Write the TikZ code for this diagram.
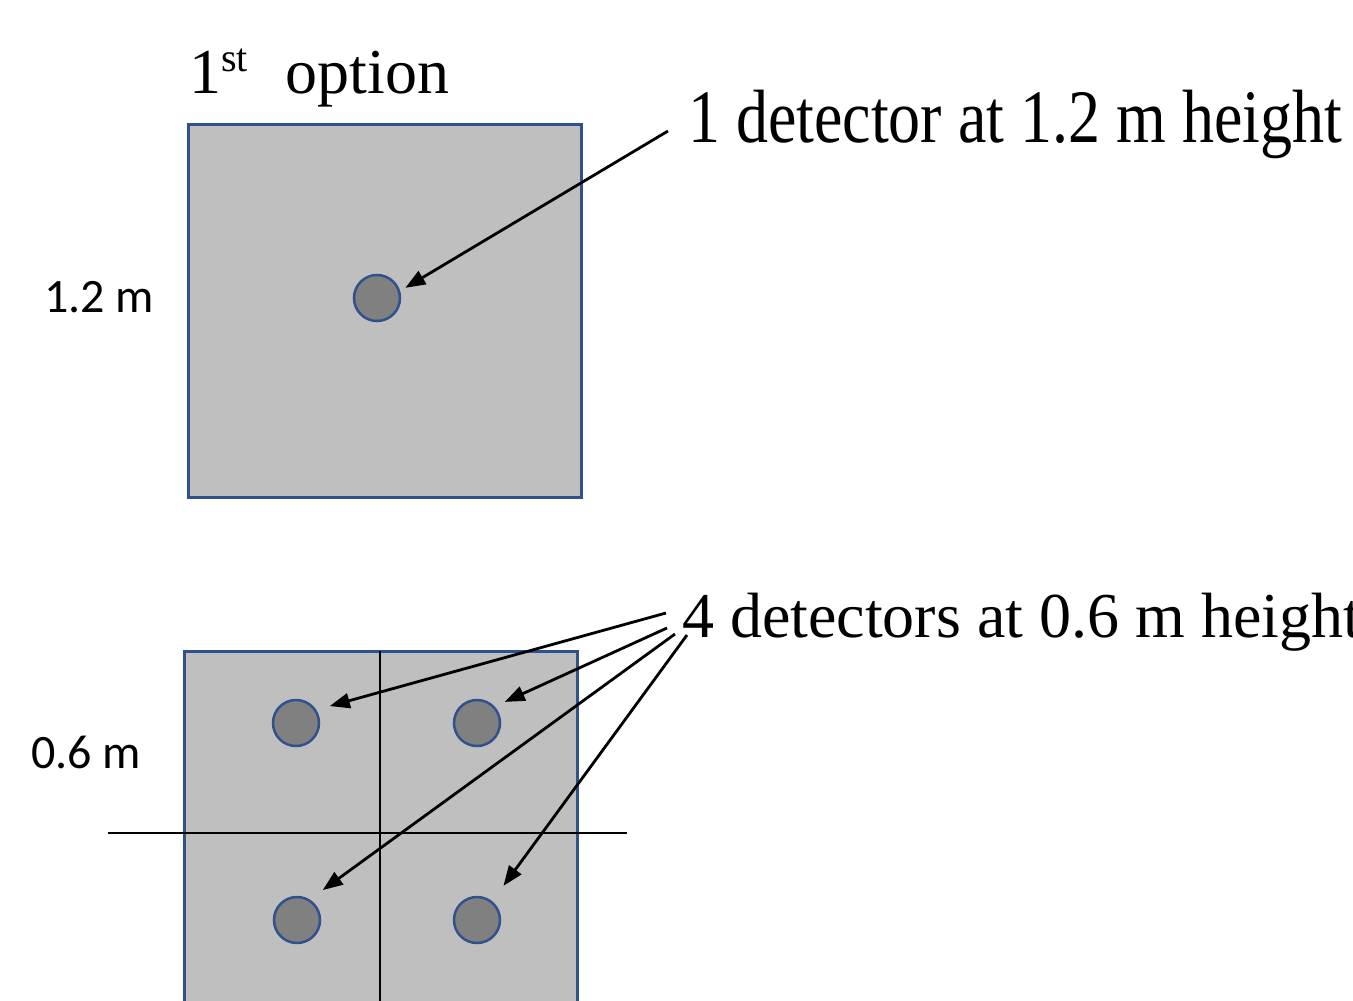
\documentclass[tikz,border=0pt]{standalone}
\usepackage{fontspec}
\setmainfont{Liberation Serif}
\newfontfamily\calib{Carlito}
\usetikzlibrary{arrows.meta}
\definecolor{boxgray}{HTML}{BFBFBF}
\definecolor{detgray}{HTML}{808080}
\definecolor{edgeblue}{HTML}{2F528F}
\tikzset{
  plate/.style={fill=boxgray, draw=edgeblue, line width=3pt},
  detector/.style={circle, fill=detgray, draw=edgeblue, line width=2.5pt, minimum size=46pt, inner sep=0pt},
  pointer/.style={line width=2.8pt, -{Triangle[length=20pt,width=15pt]}},
  divider/.style={line width=1.8pt, black},
  bigtext/.style={inner sep=0pt, outer sep=0pt, anchor=base west, font=\fontsize{64}{72}\selectfont},
  dimtext/.style={inner sep=0pt, outer sep=0pt, anchor=base west, font=\calib\fontsize{48}{54}\selectfont}
}
\begin{document}
\begin{tikzpicture}[x=1pt,y=-1pt]
\clip (0,0) rectangle (1353,1001);
\fill[white] (0,0) rectangle (1353,1001);
% top option
\node[bigtext] (title) at (189,93) {1\raisebox{22pt}{\fontsize{40}{44}\selectfont st}\hspace{38pt}option};
\draw[plate] (188,124) rectangle (581,497);
\node[detector] (c1) at (377,298) {};
\node[dimtext] (d1) at (44,312) {1.2 m};
\node[bigtext] (lab1) at (688,142) {\scalebox{1}[1.18]{1 detector at 1.2 m height}};
\coordinate (s1) at (668,131);
\draw[pointer, shorten >=6pt] (s1) -- (c1.17);
% bottom option
\draw[plate] (184,651) rectangle (577,1044);
\coordinate (vtop) at (380,651);
\coordinate (vbot) at (380,1010);
\draw[divider] (vtop) -- (vbot);
\coordinate (hl) at (108,833);
\coordinate (hr) at (627,833);
\draw[divider] (hl) -- (hr);
\node[detector] (tl) at (296,723) {};
\node[detector] (tr) at (477,723) {};
\node[detector] (bl) at (297,920) {};
\node[detector] (br) at (477,920) {};
\node[dimtext] (d2) at (31,768) {0.6 m};
\node[bigtext] (lab2) at (682,637) {4 detectors at 0.6 m height};
\coordinate (s2) at (666,613);
\coordinate (s3) at (667,628);
\coordinate (s4) at (675,634);
\coordinate (s5) at (687,635);
\draw[pointer, shorten >=14pt] (s2) -- (tl.33);
\draw[pointer, shorten >=11pt] (s3) -- (tr.43);
\draw[pointer, shorten >=16pt] (s4) -- (bl.58);
\draw[pointer, shorten >=19pt] (s5) -- (br.51);
\end{tikzpicture}
\end{document}
